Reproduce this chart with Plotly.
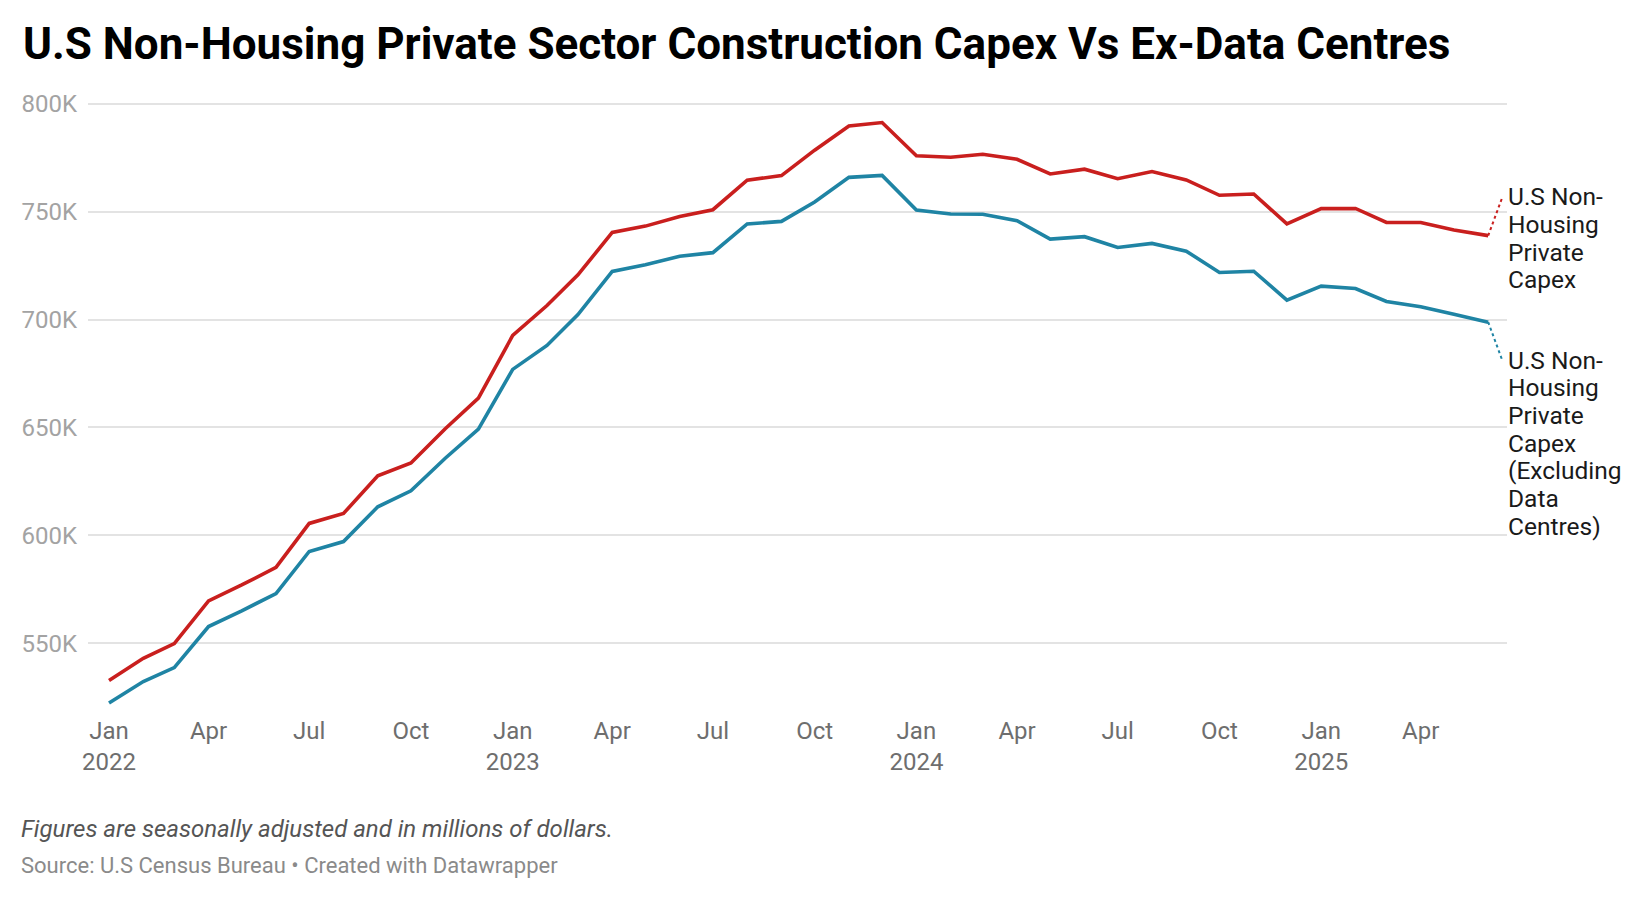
import pandas as pd
import plotly.graph_objects as go

# ---------------- data ----------------
start_month = "2022-01-01"
n_months = 42
months = pd.date_range(start_month, periods=n_months, freq="MS")

capex_total = [532.7, 543.0, 549.8, 569.6, 577.0, 585.1, 605.5, 610.1, 627.6, 633.5,
               649.4, 663.6, 692.6, 706.5, 720.7, 740.4, 743.3, 747.8, 750.9, 764.6,
               766.7, 778.5, 789.7, 791.3, 775.9, 775.2, 776.6, 774.3, 767.5, 769.7,
               765.3, 768.6, 764.7, 757.6, 758.2, 744.3, 751.4, 751.5, 745.0, 745.0,
               741.5, 738.9]
capex_ex_dc = [522.3, 532.2, 538.7, 557.7, 565.0, 573.0, 592.5, 597.1, 613.2, 620.6,
               635.7, 649.2, 676.9, 688.0, 702.3, 722.3, 725.4, 729.3, 731.0, 744.3,
               745.5, 754.5, 765.9, 766.8, 750.8, 748.9, 748.8, 745.8, 737.3, 738.4,
               733.4, 735.3, 731.7, 721.8, 722.4, 709.0, 715.5, 714.4, 708.4, 705.9,
               702.5, 698.8]

y_tick_vals = [550, 600, 650, 700, 750, 800]
y_tick_text = ["550K", "600K", "650K", "700K", "750K", "800K"]
x_tick_vals = ["2022-01-01", "2022-04-01", "2022-07-01", "2022-10-01",
               "2023-01-01", "2023-04-01", "2023-07-01", "2023-10-01",
               "2024-01-01", "2024-04-01", "2024-07-01", "2024-10-01",
               "2025-01-01", "2025-04-01"]
x_tick_text = ["Jan<br>2022", "Apr", "Jul", "Oct",
               "Jan<br>2023", "Apr", "Jul", "Oct",
               "Jan<br>2024", "Apr", "Jul", "Oct",
               "Jan<br>2025", "Apr"]

label_total = ["U.S Non-", "Housing", "Private", "Capex"]
label_ex_dc = ["U.S Non-", "Housing", "Private", "Capex", "(Excluding", "Data", "Centres)"]

title_text = "U.S Non-Housing Private Sector Construction Capex Vs Ex-Data Centres"
note_text = "Figures are seasonally adjusted and in millions of dollars."
source_text = "Source: U.S Census Bureau • Created with Datawrapper"

# ---------------- style ----------------
RED = "#c91f1e"
BLUE = "#1f84a4"
FONT = "Roboto"
W, H = 1640, 898
ML, MR, MT, MB = 88, 133, 93, 186
plot_h = H - MT - MB
plot_w = W - ML - MR


def py(px):
    """pixel y (from top) -> paper y"""
    return (H - MB - px) / plot_h


def pxx(px):
    return (px - ML) / plot_w


fig = go.Figure()
fig.add_trace(go.Scatter(x=months, y=capex_total, mode="lines",
                         line=dict(color=RED, width=3.6), hoverinfo="skip",
                         showlegend=False))
fig.add_trace(go.Scatter(x=months, y=capex_ex_dc, mode="lines",
                         line=dict(color=BLUE, width=3.6), hoverinfo="skip",
                         showlegend=False))

last_x = months[-1]

# dotted connectors from line ends to labels
for yv, dy, col in [(capex_total[-1], 38, RED), (capex_ex_dc[-1], -38, BLUE)]:
    fig.add_shape(type="line", xref="x", yref="y",
                  xsizemode="pixel", ysizemode="pixel",
                  xanchor=last_x, yanchor=yv,
                  x0=0, x1=14, y0=0, y1=dy,
                  line=dict(color=col, width=2, dash="3px,3px"))

# line labels
for k, t in enumerate(label_total):
    fig.add_annotation(x=last_x, y=capex_total[-1], xref="x", yref="y",
                       text=t, showarrow=False, xanchor="left", yanchor="middle",
                       xshift=18, yshift=39 - 27.7 * k,
                       font=dict(family=FONT, size=24.5, color="#1a1a1a"))
for k, t in enumerate(label_ex_dc):
    fig.add_annotation(x=last_x, y=capex_ex_dc[-1], xref="x", yref="y",
                       text=t, showarrow=False, xanchor="left", yanchor="middle",
                       xshift=18, yshift=-38 - 27.7 * k,
                       font=dict(family=FONT, size=24.5, color="#1a1a1a"))

# title and footer
fig.add_annotation(x=pxx(21), y=py(44), xref="paper", yref="paper",
                   text="<b>" + title_text + "</b>", showarrow=False,
                   xanchor="left", yanchor="middle",
                   font=dict(family=FONT, size=44, color="#000000"))
fig.add_annotation(x=pxx(19), y=py(829), xref="paper", yref="paper",
                   text="<i>" + note_text + "</i>", showarrow=False,
                   xanchor="left", yanchor="middle",
                   font=dict(family=FONT, size=24, color="#555555"))
fig.add_annotation(x=pxx(19), y=py(865), xref="paper", yref="paper",
                   text=source_text, showarrow=False,
                   xanchor="left", yanchor="middle",
                   font=dict(family=FONT, size=22, color="#8a8a8a"))

fig.update_layout(
    width=W, height=H,
    margin=dict(l=ML, r=MR, t=MT, b=MB, pad=0),
    paper_bgcolor="white", plot_bgcolor="white",
    font=dict(family=FONT),
    xaxis=dict(type="date", range=["2021-12-13", "2025-06-18"],
               tickvals=x_tick_vals, ticktext=x_tick_text,
               showgrid=False, zeroline=False, showline=False, ticks="",
               tickfont=dict(family=FONT, size=24, color="#6e6e6e"),
               ticklabelstandoff=2),
    yaxis=dict(range=[518.1, 805.0], tickvals=y_tick_vals, ticktext=y_tick_text,
               showgrid=True, gridcolor="#e3e3e3", gridwidth=2,
               zeroline=False, showline=False, ticks="",
               tickfont=dict(family=FONT, size=24, color="#a3a3a3"),
               ticklabelstandoff=10),
)

fig.write_html("out.html",
               config={"displayModeBar": False},
               post_script="document.body.style.margin='0px';"
                           "document.body.style.padding='0px';")
